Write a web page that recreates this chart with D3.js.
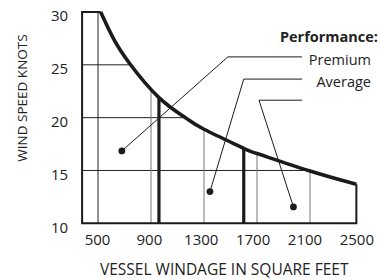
<!DOCTYPE html>
<html>
<head>
<meta charset="utf-8">
<script src="https://cdn.jsdelivr.net/npm/d3@7"></script>
<style>
  body { margin: 0; background: #fff; }
  svg { display: block; font-family: "Open Sans", sans-serif; }
</style>
</head>
<body>
<div class="chart-container"></div>
<script>
// wind speed curve (windage sq ft -> knots)
const windage = [520, 620, 740, 960, 1160, 1300, 1600, 1700, 2100, 2450];
const knots = [30, 27.4, 25.1, 21.9, 20.0, 18.9, 17.1, 16.6, 14.95, 13.7];

// performance thresholds (thick bars)
const thresholds = [960, 1600];

// ticks
const xTicks = [500, 900, 1300, 1700, 2100, 2500];
const yTicks = [10, 15, 20, 25, 30];
const xGrid = [500, 900, 1300, 1700, 2100];
const yGrid = [15, 20, 25];

// callouts: dot (windage, knots) -> elbow (windage, knots)
const calloutLabels = ["Premium", "Average", ""];
const dotWindage = [680, 1345, 1975];
const dotKnots = [16.85, 13.0, 11.55];
const elbowWindage = [1480, 1600, 1715];
const elbowKnots = [25.75, 23.65, 21.65];
const calloutEnd = 2040;

const minWindage = 380, maxWindage = 2450;

const W = 381, H = 279;
const ink = "#1b1b1b";

const svg = d3.select(".chart-container").append("svg")
  .attr("width", W).attr("height", H);

const x = d3.scaleLinear().domain([500, 2100]).range([98, 310]);
const y = d3.scaleLinear().domain([10, 30]).range([223.3, 12]);
// labels run from the first gridline to the right edge
const xLabel = d3.scaleLinear().domain([500, 2500]).range([x(500) - 1, x(maxWindage)]);

const curveData = windage.map((w, i) => ({ w: w, k: knots[i] }));

const line = d3.line().x(d => x(d.w)).y(d => y(d.k)).curve(d3.curveNatural);
const area = d3.area().x(d => x(d.w)).y0(y(10)).y1(d => y(d.k)).curve(d3.curveNatural);

/* clip: box on the left + area under the curve */
const clip = svg.append("clipPath").attr("id", "under");
clip.append("rect")
  .attr("x", x(minWindage)).attr("y", y(30))
  .attr("width", x(windage[0]) - x(minWindage) + 1)
  .attr("height", y(10) - y(30));
clip.append("path").attr("d", area(curveData));

const plot = svg.append("g").attr("clip-path", "url(#under)");

plot.selectAll(".hgrid").data(yGrid).enter().append("line")
  .attr("x1", x(minWindage)).attr("x2", x(maxWindage))
  .attr("y1", d => y(d)).attr("y2", d => y(d))
  .style("stroke", "#222").style("stroke-width", 1);

plot.selectAll(".vgrid").data(xGrid).enter().append("line")
  .attr("x1", d => x(d)).attr("x2", d => x(d))
  .attr("y1", y(10)).attr("y2", y(30))
  .style("stroke", d => d === 500 ? "#222" : "#777").style("stroke-width", 1);

plot.selectAll(".thresh").data(thresholds).enter().append("line")
  .attr("x1", d => x(d)).attr("x2", d => x(d))
  .attr("y1", y(10)).attr("y2", y(30))
  .style("stroke", ink).style("stroke-width", 3.2);

/* frame */
svg.append("path")
  .attr("d", "M" + x(windage[0]) + "," + y(30) + "H" + x(minWindage) + "V" + y(10) +
    "H" + x(maxWindage) + "V" + y(knots[knots.length - 1]))
  .style("fill", "none").style("stroke", ink).style("stroke-width", 2);

svg.append("path")
  .attr("d", line(curveData))
  .style("fill", "none").style("stroke", ink).style("stroke-width", 3.6)
  .style("stroke-linecap", "butt");

/* callouts */
const callouts = svg.selectAll(".callout").data(calloutLabels).enter().append("g");
callouts.append("path")
  .attr("d", (d, i) => "M" + x(dotWindage[i]) + "," + y(dotKnots[i]) +
    "L" + x(elbowWindage[i]) + "," + y(elbowKnots[i]) + "H" + x(calloutEnd))
  .style("fill", "none").style("stroke", ink).style("stroke-width", 1);
callouts.append("circle")
  .attr("cx", (d, i) => x(dotWindage[i])).attr("cy", (d, i) => y(dotKnots[i]))
  .attr("r", 3.4).style("fill", ink);
callouts.append("text")
  .attr("x", 371).attr("y", (d, i) => y(elbowKnots[i]) + 8)
  .attr("text-anchor", "end")
  .style("font-size", "14.5px").style("fill", "#222")
  .text(d => d);

svg.append("text")
  .attr("x", 378).attr("y", 42)
  .attr("text-anchor", "end")
  .style("font-size", "14.5px").style("font-weight", "bold").style("fill", "#222")
  .text("Performance:");

/* axes */
const yAxis = svg.append("g")
  .attr("transform", "translate(" + x(minWindage) + ",4)")
  .call(d3.axisLeft(y).tickValues(yTicks).tickSize(0).tickPadding(14));
yAxis.select(".domain").remove();
yAxis.selectAll("text").style("font-family", "Open Sans").style("font-size", "15px").style("fill", "#222");

const xAxis = svg.append("g")
  .attr("transform", "translate(0," + y(10) + ")")
  .call(d3.axisBottom(xLabel).tickValues(xTicks).tickSize(0).tickPadding(11).tickFormat(d3.format("d")));
xAxis.select(".domain").remove();
xAxis.selectAll("text").style("font-family", "Open Sans").style("font-size", "15px").style("fill", "#222");

svg.append("text")
  .attr("x", (x(minWindage) + x(maxWindage)) / 2 + 5).attr("y", 275)
  .attr("text-anchor", "middle")
  .style("font-size", "15.5px").style("fill", "#222")
  .text("VESSEL WINDAGE IN SQUARE FEET");

svg.append("text")
  .attr("transform", "translate(27,98) rotate(-90)")
  .attr("text-anchor", "middle")
  .style("font-size", "13.5px").style("fill", "#222")
  .text("WIND SPEED KNOTS");
</script>
</body>
</html>
